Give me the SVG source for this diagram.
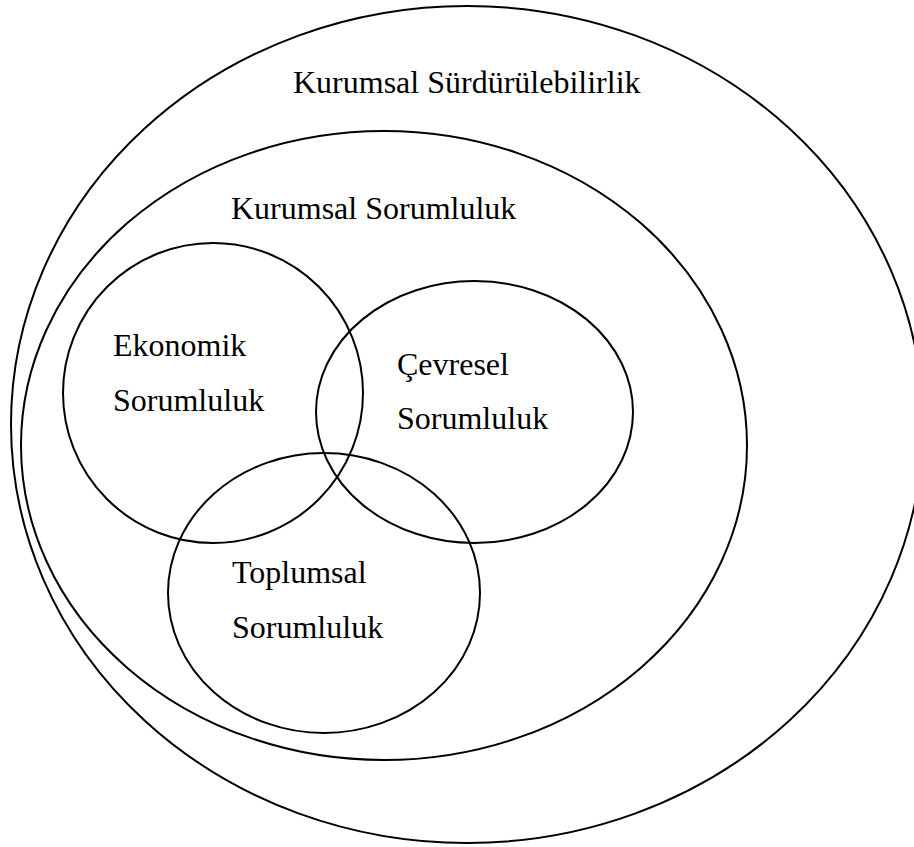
<svg xmlns="http://www.w3.org/2000/svg" width="914" height="847" viewBox="0 0 914 847">
  <style>
    .ring { fill: none; stroke: #000; stroke-width: 2; }
    .lbl { font-family: "Liberation Serif", "Times New Roman", serif; font-size: 32px; fill: #000; }
  </style>
  <rect width="914" height="847" fill="#fff"/>
  <g id="kurumsal-surdurulebilirlik">
    <ellipse class="ring" cx="467" cy="424.5" rx="456" ry="418.5"/>
    <text class="lbl" x="293" y="93">Kurumsal Sürdürülebilirlik</text>
  </g>
  <g id="kurumsal-sorumluluk">
    <ellipse class="ring" cx="384" cy="445.5" rx="363" ry="314.5"/>
    <text class="lbl" x="231" y="219">Kurumsal Sorumluluk</text>
  </g>
  <g id="ekonomik-sorumluluk">
    <ellipse class="ring" cx="213" cy="393" rx="150" ry="150"/>
    <text class="lbl" x="113" y="356">Ekonomik</text>
    <text class="lbl" x="113" y="411">Sorumluluk</text>
  </g>
  <g id="cevresel-sorumluluk">
    <ellipse class="ring" cx="474.5" cy="412" rx="158.5" ry="131"/>
    <text class="lbl" x="397" y="375">Çevresel</text>
    <text class="lbl" x="397" y="429">Sorumluluk</text>
  </g>
  <g id="toplumsal-sorumluluk">
    <ellipse class="ring" cx="324" cy="593" rx="156" ry="140"/>
    <text class="lbl" x="232" y="583">Toplumsal</text>
    <text class="lbl" x="232" y="638">Sorumluluk</text>
  </g>
  <g id="connectors"/>
</svg>
